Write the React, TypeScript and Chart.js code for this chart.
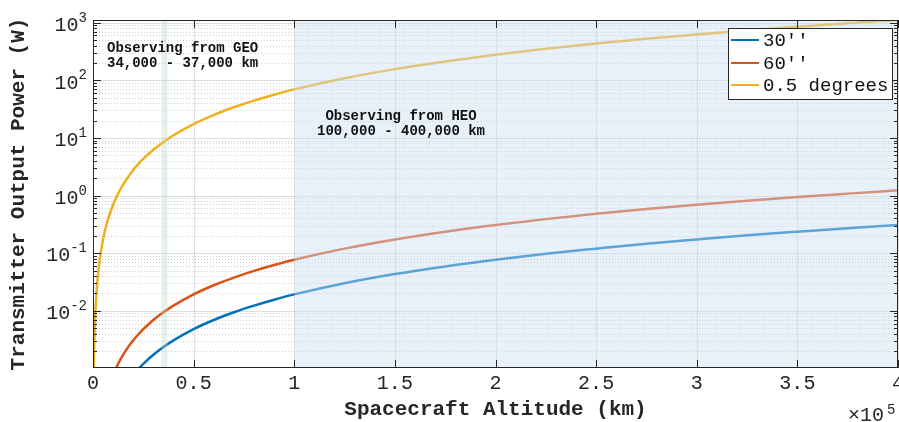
import React, { useEffect, useRef } from 'react';
import { Chart, registerables } from 'chart.js';

Chart.register(...registerables);

// ---------------- data ----------------
const altitudeKm = [
  380, 500, 1000, 1500, 2000, 3000, 4000, 5000, 6000, 7000, 8000, 10000,
  11400, 12000, 14000, 17000, 20000, 22800, 25000, 30000, 35000, 40000,
  50000, 60000, 70000, 80000, 90000, 100000, 125000, 150000, 175000, 200000,
  225000, 250000, 275000, 300000, 325000, 350000, 375000, 400000,
];

const halfDegree = [
  0.001, 0.00173, 0.00694, 0.0156, 0.0278, 0.0624, 0.111, 0.173, 0.25, 0.34, 0.444, 0.694,
  0.902, 0.999, 1.36, 2.0, 2.78, 3.61, 4.34, 6.24, 8.5, 11.1,
  17.3, 25.0, 34.0, 44.4, 56.2, 69.4, 108, 156, 212, 278,
  351, 434, 525, 624, 733, 850, 976, 1110,
];

const sixtyArcsec = [
  null, null, null, null, null, null, null, null, null, null, null, null,
  0.001, 0.00111, 0.00151, 0.00223, 0.00308, 0.00401, 0.00482, 0.00694, 0.00944, 0.0123,
  0.0193, 0.0278, 0.0378, 0.0493, 0.0624, 0.0771, 0.12, 0.173, 0.236, 0.308,
  0.39, 0.482, 0.583, 0.694, 0.814, 0.944, 1.08, 1.23,
];

const thirtyArcsec = [
  null, null, null, null, null, null, null, null, null, null, null, null,
  null, null, null, null, null, 0.001, 0.0012, 0.00173, 0.00236, 0.00308,
  0.00482, 0.00694, 0.00944, 0.0123, 0.0156, 0.0193, 0.0301, 0.0434, 0.059, 0.0771,
  0.0976, 0.12, 0.146, 0.173, 0.204, 0.236, 0.271, 0.308,
];

const seriesNames = ["30''", "60''", '0.5 degrees'];
const seriesColors = ['#0072BD', '#D95319', '#EDB120'];

const xTickValues = [0, 50000, 100000, 150000, 200000, 250000, 300000, 350000, 400000];
const xTickLabels = ['0', '0.5', '1', '1.5', '2', '2.5', '3', '3.5', '4'];
const yTickExponents = [-2, -1, 0, 1, 2, 3];

const geoRange = [34000, 37000];
const heoRange = [100000, 400000];
const geoText = ['Observing from GEO', '34,000 - 37,000 km'];
const heoText = ['Observing from HEO', '100,000 - 400,000 km'];
const xTitle = 'Spacecraft Altitude (km)';
const yTitle = 'Transmitter Output Power (W)';

const X_MIN = 0;
const X_MAX = 400000;
const Y_MIN = 0.00102;
const Y_MAX = 1110;

const MONO = '"Liberation Mono", "Courier New", monospace';
const AXIS_COLOR = '#262626';

const decorPlugin = {
  id: 'decor',
  beforeDatasetsDraw(chart: any) {
    const { ctx, chartArea: a } = chart;
    const x = chart.scales.x;
    const y = chart.scales.y;
    ctx.save();
    ctx.fillStyle = '#ffffff';
    ctx.fillRect(a.left, a.top, a.right - a.left, a.bottom - a.top);
    ctx.lineWidth = 1;
    // minor horizontal grid (dotted)
    ctx.strokeStyle = 'rgba(120,120,120,0.35)';
    ctx.setLineDash([1, 2]);
    for (let e = -3; e <= 3; e++) {
      for (let m = 2; m <= 9; m++) {
        const v = m * Math.pow(10, e);
        if (v < Y_MIN || v > Y_MAX) continue;
        const py = Math.round(y.getPixelForValue(v)) + 0.5;
        ctx.beginPath();
        ctx.moveTo(a.left, py);
        ctx.lineTo(a.right, py);
        ctx.stroke();
      }
    }
    // major grid
    ctx.setLineDash([]);
    ctx.strokeStyle = 'rgba(0,0,0,0.13)';
    yTickExponents.forEach((e) => {
      const py = Math.round(y.getPixelForValue(Math.pow(10, e))) + 0.5;
      ctx.beginPath();
      ctx.moveTo(a.left, py);
      ctx.lineTo(a.right, py);
      ctx.stroke();
    });
    xTickValues.forEach((v) => {
      const px = Math.round(x.getPixelForValue(v)) + 0.5;
      ctx.beginPath();
      ctx.moveTo(px, a.top);
      ctx.lineTo(px, a.bottom);
      ctx.stroke();
    });
    ctx.restore();
  },
  afterDatasetsDraw(chart: any) {
    const { ctx, chartArea: a } = chart;
    const x = chart.scales.x;
    const y = chart.scales.y;
    ctx.save();
    // shaded regions
    const h0 = x.getPixelForValue(heoRange[0]);
    const h1 = x.getPixelForValue(heoRange[1]);
    ctx.fillStyle = 'rgba(205,225,245,0.45)';
    ctx.fillRect(h0, a.top, h1 - h0, a.bottom - a.top);
    const g0 = x.getPixelForValue(geoRange[0]);
    const g1 = x.getPixelForValue(geoRange[1]);
    ctx.fillStyle = 'rgba(185,215,185,0.35)';
    ctx.fillRect(g0, a.top, g1 - g0, a.bottom - a.top);

    // axis box
    ctx.strokeStyle = AXIS_COLOR;
    ctx.lineWidth = 1;
    ctx.strokeRect(Math.round(a.left) + 0.5, Math.round(a.top) + 0.5,
      Math.round(a.right - a.left) - 1, Math.round(a.bottom - a.top) - 1);

    // x ticks (inward, top and bottom)
    xTickValues.forEach((v) => {
      const px = Math.round(x.getPixelForValue(v)) + 0.5;
      ctx.beginPath();
      ctx.moveTo(px, a.bottom);
      ctx.lineTo(px, a.bottom - 8);
      ctx.moveTo(px, a.top);
      ctx.lineTo(px, a.top + 8);
      ctx.stroke();
    });
    // y ticks (inward, left and right)
    for (let e = -3; e <= 3; e++) {
      for (let m = 1; m <= 9; m++) {
        const v = m * Math.pow(10, e);
        if (v < Y_MIN || v > Y_MAX) continue;
        const len = m === 1 ? 8 : 4;
        const py = Math.round(y.getPixelForValue(v)) + 0.5;
        ctx.beginPath();
        ctx.moveTo(a.left, py);
        ctx.lineTo(a.left + len, py);
        ctx.moveTo(a.right, py);
        ctx.lineTo(a.right - len, py);
        ctx.stroke();
      }
    }

    // x tick labels
    ctx.fillStyle = AXIS_COLOR;
    ctx.font = `20px ${MONO}`;
    ctx.textAlign = 'center';
    ctx.textBaseline = 'middle';
    xTickValues.forEach((v, i) => {
      ctx.fillText(xTickLabels[i], x.getPixelForValue(v), a.bottom + 16);
    });
    // y tick labels 10^e
    yTickExponents.forEach((e) => {
      const py = y.getPixelForValue(Math.pow(10, e));
      const expStr = e < 0 ? '-' + Math.abs(e) : String(e);
      ctx.font = `14px ${MONO}`;
      const ew = ctx.measureText(expStr).width;
      const right = a.left - 6;
      ctx.textAlign = 'left';
      ctx.textBaseline = 'alphabetic';
      ctx.fillText(expStr, right - ew, py - 1);
      ctx.font = `20px ${MONO}`;
      ctx.textAlign = 'right';
      ctx.textBaseline = 'middle';
      ctx.fillText('10', right - ew, py + 3);
    });
    // x exponent
    ctx.textAlign = 'left';
    ctx.textBaseline = 'middle';
    ctx.font = `20px ${MONO}`;
    ctx.fillText('\u00d710', 848, 416);
    ctx.font = `14px ${MONO}`;
    ctx.fillText('5', 887, 410);

    // axis titles
    ctx.font = `bold 21px ${MONO}`;
    ctx.textAlign = 'center';
    ctx.textBaseline = 'middle';
    ctx.fillText(xTitle, (a.left + a.right) / 2, 410);
    ctx.save();
    ctx.translate(19, (a.top + a.bottom) / 2);
    ctx.rotate(-Math.PI / 2);
    ctx.fillText(yTitle, 0, 0);
    ctx.restore();

    // annotations
    ctx.fillStyle = '#111111';
    ctx.font = `bold 14px ${MONO}`;
    ctx.textAlign = 'left';
    ctx.fillText(geoText[0], 107, 48);
    ctx.fillText(geoText[1], 107, 63);
    ctx.textAlign = 'center';
    ctx.fillText(heoText[0], 401, 116);
    ctx.fillText(heoText[1], 401, 131);

    // legend
    ctx.fillStyle = '#ffffff';
    ctx.fillRect(728, 28, 164, 71);
    ctx.strokeStyle = AXIS_COLOR;
    ctx.lineWidth = 1;
    ctx.strokeRect(728.5, 28.5, 164, 71);
    const rows = [40, 63, 85];
    ctx.font = `19px ${MONO}`;
    ctx.textAlign = 'left';
    ctx.textBaseline = 'middle';
    seriesNames.forEach((name, i) => {
      ctx.strokeStyle = seriesColors[i];
      ctx.lineWidth = 2;
      ctx.beginPath();
      ctx.moveTo(731, rows[i]);
      ctx.lineTo(759, rows[i]);
      ctx.stroke();
      ctx.fillStyle = '#111111';
      ctx.fillText(name, 763, rows[i] + 1);
    });
    ctx.restore();
  },
};

export default function App() {
  const canvasRef = useRef<HTMLCanvasElement | null>(null);

  useEffect(() => {
    const canvas = canvasRef.current;
    if (!canvas) return;
    const seriesValues = [thirtyArcsec, sixtyArcsec, halfDegree];
    const chart = new Chart(canvas, {
      type: 'line',
      data: {
        datasets: seriesValues.map((vals, i) => ({
          label: seriesNames[i],
          data: altitudeKm.map((h, j) => ({ x: h, y: vals[j] as any })),
          borderColor: seriesColors[i],
          backgroundColor: seriesColors[i],
          borderWidth: 2.5,
          pointRadius: 0,
          fill: false,
          cubicInterpolationMode: 'monotone',
          spanGaps: false,
        })),
      },
      options: {
        responsive: false,
        animation: false,
        layout: { padding: { left: 93, top: 20, right: 1, bottom: 54 } },
        scales: {
          x: { type: 'linear', min: X_MIN, max: X_MAX, display: false },
          y: { type: 'logarithmic', min: Y_MIN, max: Y_MAX, display: false },
        },
        plugins: {
          legend: { display: false },
          tooltip: { enabled: false },
        },
      },
      plugins: [decorPlugin],
    } as any);
    return () => chart.destroy();
  }, []);

  return (
    <div style={{ position: 'fixed', left: 0, top: 0, width: 899, height: 422, background: '#fff' }}>
      <canvas ref={canvasRef} width={899} height={422} style={{ display: 'block' }} />
    </div>
  );
}
